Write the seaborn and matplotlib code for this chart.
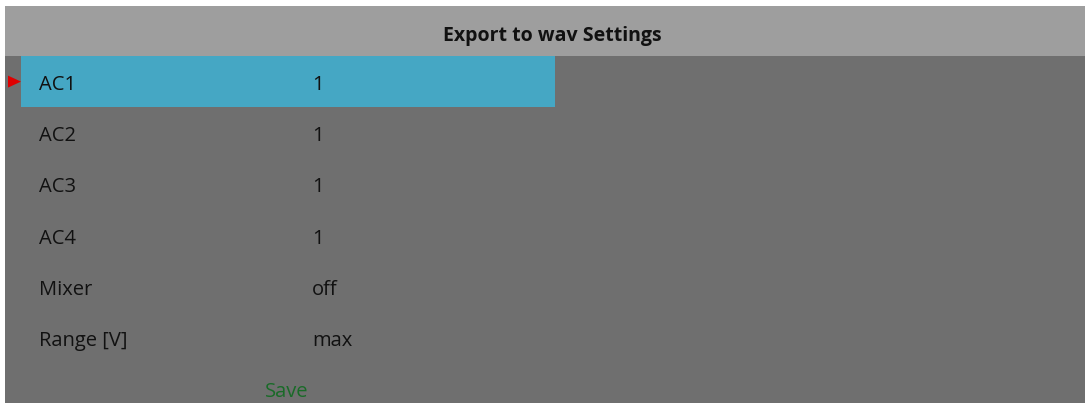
import matplotlib
matplotlib.use("Agg")
import matplotlib.pyplot as plt
import seaborn as sns
from matplotlib.patches import Rectangle, Polygon

title = "Export to wav Settings"
labels = ["AC1", "AC2", "AC3", "AC4", "Mixer", "Range [V]"]
values = ["1", "1", "1", "1", "off", "max"]
action = "Save"
selected = 0

sns.set_theme(style="white")
plt.rcParams['font.family'] = ['Open Sans', 'DejaVu Sans']

W, H = 1085, 403
fig = plt.figure(figsize=(W / 100, H / 100), dpi=100)
ax = fig.add_axes([0, 0, 1, 1])
ax.set_xlim(0, W)
ax.set_ylim(H, 0)
ax.axis("off")
fig.patch.set_facecolor("white")

# panels
ax.add_patch(Rectangle((5, 6), W - 5, 50, color="#9e9e9e", lw=0))
ax.add_patch(Rectangle((5, 56), W - 5, H - 56, color="#6f6f6f", lw=0))
ax.text(552, 33, title, ha="center", va="center_baseline", fontsize=14,
        fontweight="bold", color="#111111")

row_h = 51.2
top = 56
fs = 14.5
for i, (lab, val) in enumerate(zip(labels, values)):
    yc = top + row_h * (i + 0.5)
    if i == selected:
        ax.add_patch(Rectangle((21, top + row_h * i), 534, row_h,
                               color="#45a7c4", lw=0))
        ax.add_patch(Polygon([[8, yc - 6], [8, yc + 6], [21, yc]],
                             closed=True, color="#e00000", lw=0))
    ax.text(39, yc + 1, lab, ha="left", va="center_baseline", fontsize=fs, color="#111111")
    ax.text(312, yc + 1, val, ha="left", va="center_baseline", fontsize=fs, color="#111111")

ax.text(265, top + row_h * 6.5 + 1, action, ha="left", va="center_baseline",
        fontsize=fs, color="#196b28")

fig.savefig("out.png", dpi=100)
